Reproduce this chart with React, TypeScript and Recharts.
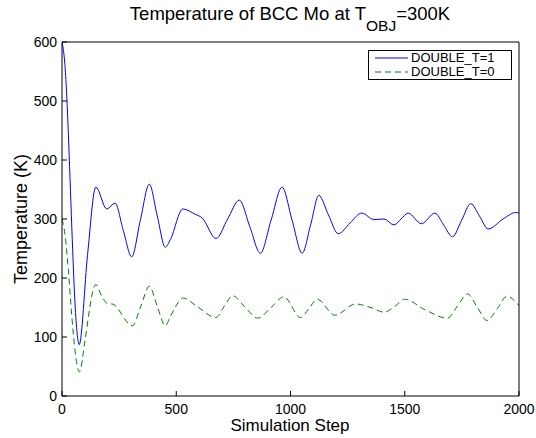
import React from 'react'
import { LineChart, Line, XAxis, YAxis, Legend } from 'recharts'

// readings (simulation step, temperature in K)
const stepsT1 = [0, 13, 21, 28, 35, 43, 57, 66, 75, 112, 148, 196, 232, 268, 305, 343, 382, 417, 452, 474, 529, 583, 613, 674, 725, 776, 822, 868, 915, 963, 1007, 1051, 1088, 1124, 1166, 1209, 1260, 1311, 1366, 1409, 1453, 1484, 1515, 1573, 1632, 1670, 1709, 1749, 1789, 1827, 1865, 1930, 1987, 2000]
const tempsT1 = [600, 560, 507, 443, 370, 285, 156, 107, 87, 240, 354, 317, 327, 281, 236, 298, 359, 305, 252, 265, 317, 308, 302, 267, 300, 332, 287, 242, 298, 354, 298, 242, 290, 340, 307, 275, 293, 310, 299, 300, 290, 300, 310, 292, 310, 290, 270, 298, 326, 305, 283, 300, 311, 310]

const stepsT0 = [0, 13, 28, 43, 57, 66, 76, 101, 116, 130, 148, 174, 203, 218, 308, 345, 382, 417, 452, 474, 532, 590, 674, 710, 747, 800, 857, 915, 971, 1044, 1080, 1117, 1194, 1285, 1358, 1409, 1460, 1500, 1585, 1687, 1730, 1775, 1818, 1860, 1905, 1947, 2000]
const tempsT0 = [300, 274, 212, 135, 77, 52, 41, 95, 135, 169, 189, 169, 156, 156, 119, 152, 186, 152, 119, 135, 166, 152, 133, 152, 170, 151, 132, 150, 168, 133, 148, 164, 137, 156, 149, 142, 153, 164, 147, 132, 152, 173, 150, 128, 148, 169, 153]

const seriesNames = ['DOUBLE_T=1', 'DOUBLE_T=0']
const xTicks = [0, 500, 1000, 1500, 2000]
const yTicks = [0, 100, 200, 300, 400, 500, 600]

const dataT1 = stepsT1.map((s, i) => ({ step: s, temp: tempsT1[i] }))
const dataT0 = stepsT0.map((s, i) => ({ step: s, temp: tempsT0[i] }))

const font = '"Liberation Sans", Arial, Helvetica, sans-serif'
const tickStyle = { fill: '#000', fontSize: 14, fontFamily: font }

function LegendBox({ payload }: any) {
  const items = [...(payload || [])].sort(
    (a: any, b: any) => seriesNames.indexOf(a.value) - seriesNames.indexOf(b.value))
  return (
    <div style={{
      border: '1px solid #000', background: '#fff', boxSizing: 'border-box',
      width: 144, height: 30, padding: '0 0 0 6px', fontFamily: font, fontSize: 13, color: '#000',
    }}>
      {items.map((p: any) => (
        <div key={p.value} style={{ display: 'flex', alignItems: 'center', height: 14 }}>
          <svg width={33} height={10} style={{ marginRight: 3, flex: 'none' }}>
            <line x1={0} x2={33} y1={5} y2={5} stroke={p.color} strokeWidth={1}
              strokeDasharray={p.payload?.strokeDasharray} />
          </svg>
          <span style={{ lineHeight: '14px', whiteSpace: 'nowrap' }}>{p.value}</span>
        </div>
      ))}
    </div>
  )
}

export default function App() {
  return (
    <div style={{ position: 'absolute', left: 0, top: 0, width: 536, height: 438, background: '#fff' }}>
      <LineChart width={536} height={438} margin={{ top: 32, right: 7, bottom: 12, left: 22 }}>
        <XAxis dataKey="step" type="number" domain={[0, 2000]} ticks={xTicks} height={30}
          allowDataOverflow stroke="#000" tickSize={-5} tickMargin={13} tick={tickStyle} />
        <XAxis xAxisId="top" orientation="top" type="number" domain={[0, 2000]} ticks={xTicks}
          height={10} allowDataOverflow stroke="#000" tickSize={-5} tick={false} />
        <YAxis type="number" domain={[0, 600]} ticks={yTicks} width={40}
          allowDataOverflow stroke="#000" tickSize={-5} tickMargin={10} tick={tickStyle} />
        <YAxis yAxisId="right" orientation="right" type="number" domain={[0, 600]} ticks={yTicks}
          width={10} allowDataOverflow stroke="#000" tickSize={-5} tick={false} />
        <Line data={dataT1} dataKey="temp" name={seriesNames[0]} type="monotone" stroke="#0000ff"
          strokeWidth={1} dot={false} isAnimationActive={false} />
        <Line data={dataT0} dataKey="temp" name={seriesNames[1]} type="monotone" stroke="#008000"
          strokeWidth={1} strokeDasharray="6 4" dot={false} isAnimationActive={false} />
        <Legend layout="vertical" align="center" verticalAlign="middle" content={<LegendBox />}
          wrapperStyle={{ left: 368, top: 50, right: 'auto', bottom: 'auto', width: 144, height: 30 }} />
      </LineChart>
      <svg width={536} height={438} style={{ position: 'absolute', left: 0, top: 0, pointerEvents: 'none' }}>
        <text x={290} y={20} textAnchor="middle" fontFamily={font} fontSize={18.5} fill="#000">
          Temperature of BCC Mo at T<tspan fontSize={15.5} dy={11}>OBJ</tspan><tspan dy={-11}>=300K</tspan>
        </text>
        <text x={290} y={431} textAnchor="middle" fontFamily={font} fontSize={17} fill="#000">
          Simulation Step
        </text>
        <text transform="translate(27,219) rotate(-90)" textAnchor="middle" fontFamily={font}
          fontSize={18} fill="#000">
          Temperature (K)
        </text>
      </svg>
    </div>
  )
}
